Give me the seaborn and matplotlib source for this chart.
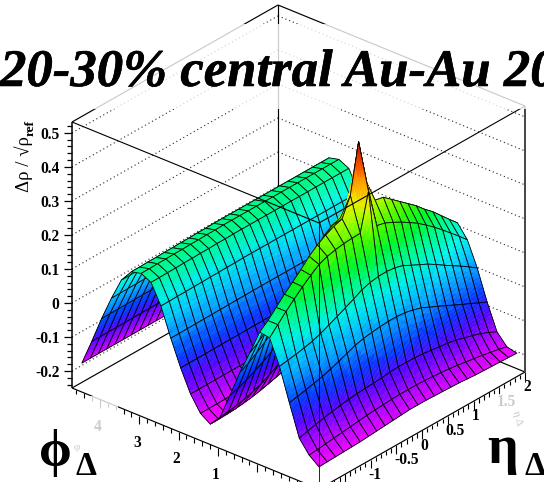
import numpy as np
import matplotlib
matplotlib.use("Agg")
import matplotlib.pyplot as plt
import seaborn as sns
import matplotlib.patheffects as pe
from matplotlib.collections import PolyCollection, LineCollection
from matplotlib.colors import ListedColormap
from matplotlib.patches import Rectangle

sns.set_theme(style="white")
plt.rcParams['font.family'] = ['Liberation Serif', 'DejaVu Serif']

# ---------- data ----------
title_text = "20-30% central Au-Au 20"
z_ticks = [-0.2, -0.1, 0.0, 0.1, 0.2, 0.3, 0.4, 0.5]
z_tick_labels = ["-0.2", "-0.1", "0", "0.1", "0.2", "0.3", "0.4", "0.5"]
phi_ticks = [4, 3, 2, 1]
eta_ticks = [-1, -0.5, 0, 0.5, 1, 1.5, 2]
eta_tick_labels = ["-1", "-0.5", "0", "0.5", "1", "1.5", "2"]

valley = -0.19
# front face of the near-side hump: heights along eta for the first seven phi rows
row0 = [-.185, -.184, -.183, -.182, -.181, -.18, -.178, -.176, -.174, -.172, -.17, -.168, -.168,
        -.168, -.169, -.17, -.171, -.172, -.174, -.176, -.177, -.178, -.179, -.18, -.181]
row1 = [-.162, -.16, -.157, -.154, -.151, -.148, -.145, -.142, -.14, -.138, -.136, -.135, -.135,
        -.135, -.136, -.138, -.14, -.143, -.146, -.15, -.154, -.158, -.163, -.168, -.174]
row2 = [-.124, -.118, -.112, -.106, -.101, -.097, -.093, -.09, -.088, -.087, -.085, -.082, -.08,
        -.08, -.081, -.083, -.086, -.09, -.093, -.098, -.105, -.112, -.12, -.13, -.142]
row3 = [-.032, -.027, -.022, -.016, -.01, -.002, .007, .017, .027, .033, .037, .04, .042,
        .042, .04, .034, .027, .015, .004, -.008, -.02, -.032, -.043, -.055, -.066]
row4 = [.063, .067, .071, .076, .082, .091, .102, .113, .125, .137, .15, .158, .162,
        .163, .16, .153, .14, .128, .116, .101, .085, .07, .055, .039, .022]
row5 = [.135, .16, .185, .208, .23, .25, .268, .278, .284, .288, .29, .291, .29,
        .286, .28, .268, .255, .24, .224, .205, .185, .163, .14, .117, .093]
row6 = [.14, .16, .185, .21, .232, .255, .28, .30, .315, .327, .335, .34, .535,
        .34, .335, .33, .31, .29, .27, .25, .226, .205, .18, .155, .131]
front_rows = [row0, row1, row2, row3, row4, row5, row6]
# rear face of the near-side hump, as fraction of row6 for mid eta and at the eta edges
rear_mid = [.95, .75, .5, .25, .08, .01]
rear_edge = [.78, .57, .33, .1, .0, 0]
mid_weight = [0, .02, .05, .1, .18, .28, .4, .55, .7, .85, .95, 1, 1,
              1, .95, .85, .7, .55, .4, .28, .18, .1, .05, .02, 0]
# far ridge
far_crest = [.17, .17, .171, .171, .172, .172, .173, .173, .174, .174, .175, .175, .175,
             .175, .175, .175, .175, .175, .175, .175, .175, .175, .175, .175, .175]
far_shape = [0, 0, 0, 0, 0, 0, 0, 0, 0, 0, 0, 0, .055,
             .18, .36, .57, .8, .96, 1, .98, .88, .7, .5, .28, .07]
# heights next to the sharp peak: (phi node, eta node, height)
peak_nodes = [(5, 12, .40), (7, 12, .39), (6, 11, .39), (6, 13, .40)]

surface_colors = ["#ff00ff", "#aa00ff", "#5000ff", "#0032ff", "#0082ff", "#00c8ff", "#00fae6",
                  "#00ff96", "#00f832", "#3cfa00", "#96ff00", "#ebf500", "#ffaa00", "#ff5a00", "#be1400"]

# ---------- axis ranges and oblique view of the cube ----------
PHI0, PHI1 = -np.pi / 2, 3 * np.pi / 2
ETA0, ETA1 = -2.0, 2.0
Z0, Z1 = -0.25, 0.532
FRONT = np.array([319.0, 489.0])
U_VEC = np.array([-247.0, -101.0])
V_VEC = np.array([206.0, -117.0])
W_VEC = np.array([0.0, -266.0])


def project(phi, eta, z):
    u = (np.asarray(phi, float) - PHI0) / (PHI1 - PHI0)
    v = (np.asarray(eta, float) - ETA0) / (ETA1 - ETA0)
    w = (np.asarray(z, float) - Z0) / (Z1 - Z0)
    return (FRONT[0] + u * U_VEC[0] + v * V_VEC[0],
            FRONT[1] + u * U_VEC[1] + v * V_VEC[1] + w * W_VEC[1])


fig = plt.figure(figsize=(5.44, 4.82), dpi=100, facecolor="white")
ax = fig.add_axes([0, 0, 1, 1])
ax.set_xlim(0, 544)
ax.set_ylim(482, 0)
ax.axis("off")

# ---------- surface values on the 25 x 25 node grid ----------
n_nodes = 25
phi_nodes = PHI0 + np.arange(n_nodes) * (PHI1 - PHI0) / 25
eta_nodes = ETA0 + np.arange(n_nodes) * (ETA1 - ETA0) / 25
Z = np.full((n_nodes, n_nodes), valley, dtype=float)
for i, row in enumerate(front_rows):
    Z[i, :] = row
for i, j, h in peak_nodes:
    Z[i, j] = h
crest = np.array(row6, float)
crest[12] = .345
for k in range(len(rear_mid)):
    for j in range(n_nodes):
        frac = mid_weight[j] * rear_mid[k] + (1 - mid_weight[j]) * rear_edge[k]
        Z[7 + k, j] = valley + (crest[j] - valley) * frac
for i in range(n_nodes):
    for j in range(n_nodes):
        Z[i, j] += (far_crest[j] - valley) * far_shape[i]


def box_line(a, b, **kw):
    xa, ya = project(*a)
    xb, yb = project(*b)
    ax.plot([xa, xb], [ya, yb], solid_capstyle="butt", **kw)


for z in z_ticks:
    box_line((PHI1, ETA0, z), (PHI1, ETA1, z), color="#222222", lw=0.8, ls=(0, (1, 2.6)), zorder=1)
    box_line((PHI1, ETA1, z), (PHI0, ETA1, z), color="#222222", lw=0.8, ls=(0, (1, 2.6)), zorder=1)

black = dict(color="black", lw=0.85, zorder=2)
box_line((PHI1, ETA0, Z1), (PHI1, ETA1, Z1), **black)
box_line((PHI1, ETA1, Z1), (PHI0, ETA1, Z1), **black)
box_line((PHI1, ETA1, Z0), (PHI1, ETA1, Z1), **black)
box_line((PHI1, ETA0, Z0), (PHI1, ETA1, Z0), **black)
box_line((PHI1, ETA1, Z0), (PHI0, ETA1, Z0), **black)
box_line((PHI1, ETA0, Z0), (PHI0, ETA0, Z0), **black)
box_line((PHI0, ETA0, Z0), (PHI0, ETA1, Z0), **black)
box_line((PHI0, ETA1, Z0), (PHI0, ETA1, Z1), color="#444444", lw=1.4, zorder=2)
box_line((PHI1, ETA0, Z0), (PHI1, ETA0, Z1), color="black", lw=1.1, zorder=2)

# ---------- surface, painted from the far corner to the viewer ----------
band_colors = sns.blend_palette(surface_colors, n_colors=50)
cmap = ListedColormap(band_colors)
PX, PY = project(phi_nodes[:, None], eta_nodes[None, :], Z)
n_sub = 7
s = np.linspace(0, 1, n_sub + 1)
polys, faces, edges, widths = [], [], [], []
for i in range(n_nodes - 2, -1, -1):
    for j in range(n_nodes - 2, -1, -1):
        def bil(A, a, b):
            return (A[i, j] * (1 - a) * (1 - b) + A[i + 1, j] * a * (1 - b)
                    + A[i, j + 1] * (1 - a) * b + A[i + 1, j + 1] * a * b)
        for a in range(n_sub):
            for b in range(n_sub):
                corners = [(s[a], s[b]), (s[a + 1], s[b]), (s[a + 1], s[b + 1]), (s[a], s[b + 1])]
                polys.append([(bil(PX, p, q), bil(PY, p, q)) for p, q in corners])
                zm = bil(Z, (s[a] + s[a + 1]) / 2, (s[b] + s[b + 1]) / 2)
                c = cmap(np.clip((zm + 0.2) / 0.73, 0, 0.999))
                faces.append(c)
                edges.append(c)
                widths.append(0.3)
        polys.append([(PX[i, j], PY[i, j]), (PX[i + 1, j], PY[i + 1, j]),
                      (PX[i + 1, j + 1], PY[i + 1, j + 1]), (PX[i, j + 1], PY[i, j + 1])])
        faces.append((0, 0, 0, 0))
        edges.append((0, 0, 0, 1))
        widths.append(0.6)
ax.add_collection(PolyCollection(polys, facecolors=faces, edgecolors=edges, linewidths=widths,
                                 zorder=3, closed=True))

# front edges of the box stay above the surface
front = dict(color="black", lw=0.8, zorder=4)
box_line((PHI1, ETA0, Z1), (PHI0, ETA0, Z1), **front)
box_line((PHI0, ETA0, Z1), (PHI0, ETA1, Z1), **front)
box_line((PHI0, ETA0, Z0), (PHI0, ETA0, Z1), color="black", lw=0.6, zorder=4)

# ---------- ticks ----------
tick_font = dict(family="Liberation Serif", fontweight="bold", fontsize=11.2, color="black", zorder=5)
z_minor = np.round(np.arange(-0.24, 0.53, 0.02), 2)
segs = []
for z in z_minor:
    x, y = project(PHI1, ETA0, z)
    length = 8 if any(abs(z - t) < 1e-6 for t in z_ticks) else 5
    segs.append([(x - length, y), (x, y)])
ax.add_collection(LineCollection(segs, colors="black", linewidths=0.9, zorder=2))
for z, lab in zip(z_ticks, z_tick_labels):
    x, y = project(PHI1, ETA0, z)
    ax.text(x - 12.5, y, lab, ha="right", va="center_baseline", **tick_font)

segs = []
for p in np.arange(-1.4, 4.71, 0.2):
    x, y = project(p, ETA0, Z0)
    segs.append([(x, y), (x, y + (8.5 if abs(p - round(p)) < 1e-6 else 4.5))])
for e in np.arange(-2, 2.01, 0.1):
    x, y = project(PHI0, e, Z0)
    major = abs(e * 2 - round(e * 2)) < 1e-6
    segs.append([(x, y), (x, y + (8.5 if major else 4.5))])
ax.add_collection(LineCollection(segs, colors="black", linewidths=0.8, zorder=2))
for p in phi_ticks:
    x, y = project(p, ETA0, Z0)
    ax.text(x - 2, y + 25.5, str(p), ha="center", va="center_baseline", **tick_font)
for e, lab in zip(eta_ticks, eta_tick_labels):
    x, y = project(PHI0, e, Z0)
    ax.text(x - 2, y + 13, lab, ha="left", va="center_baseline", **tick_font)

# faint small axis titles that lie under the large ones
ax.text(77, 447, "φ", fontsize=8, ha="center", va="center", color="black", zorder=5)
ax.text(517, 418, "η Δ", fontsize=8, rotation=-75, ha="center", va="center", color="black", zorder=5)

# translucent white panels behind the title and the large axis titles
for x0, y0, w, h in [(0, 24, 544, 85), (88, 396, 30, 86), (490, 394, 54, 88), (60, 436, 28, 46)]:
    ax.add_patch(Rectangle((x0, y0), w, h, facecolor="white", edgecolor="none", alpha=0.8, zorder=6))

# ---------- titles ----------
ax.text(0, 86, title_text, fontsize=38, fontweight="bold", fontstyle="italic",
        family="Liberation Serif", ha="left", va="baseline", color="black", zorder=7, clip_on=False,
        path_effects=[pe.withStroke(linewidth=0.4, foreground="black")])
ax.text(33, 192, "Δρ / √ρ", fontsize=13.5, rotation=90, family="Liberation Serif",
        ha="right", va="bottom", color="black", zorder=7)
ax.text(37, 136, "ref", fontsize=9.5, fontweight="bold", rotation=90, family="Liberation Serif",
        ha="right", va="bottom", color="black", zorder=7)
big = dict(family=["Liberation Serif", "DejaVu Serif"], fontweight="bold", color="black", zorder=7)
ax.text(55, 453, "ϕ", fontsize=38, ha="center", va="center", **big)
ax.text(86.5, 466.5, "Δ", fontsize=24, ha="center", va="center", **big)
ax.text(503, 450, "η", fontsize=39, ha="center", va="center", **big)
ax.text(535, 466.5, "Δ", fontsize=24, ha="center", va="center", **big)

fig.savefig("out.png", dpi=100)
